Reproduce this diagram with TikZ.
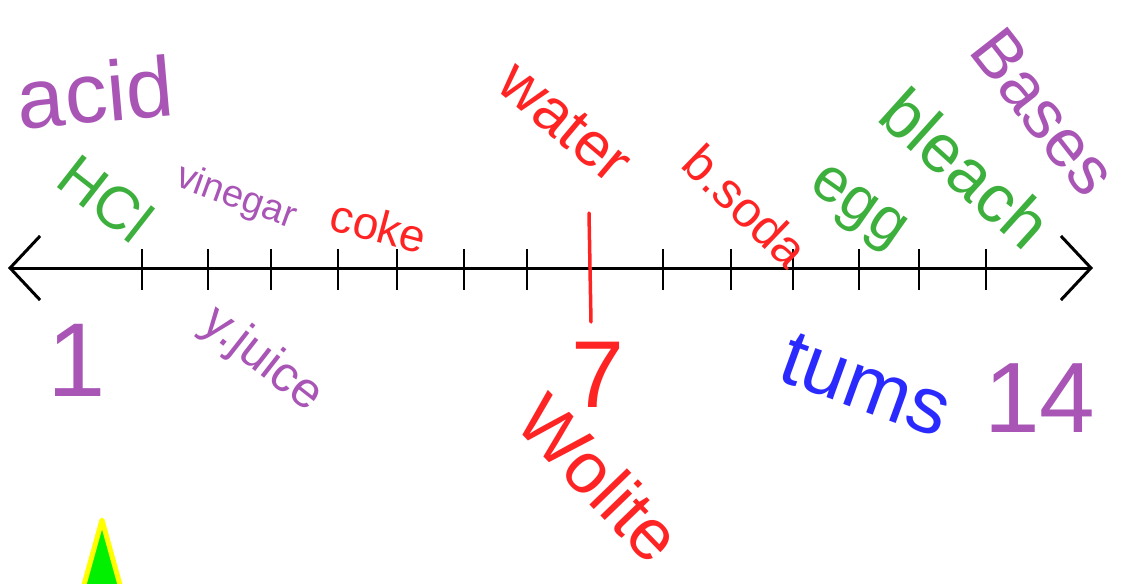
\documentclass[tikz,border=0pt]{standalone}
\usepackage{fontspec}
\setmainfont{Liberation Sans}
\usetikzlibrary{
  arrows.meta,
  positioning,
  calc
}
\definecolor{phPurple}{HTML}{A855B5}
\definecolor{phGreen}{HTML}{3CAF3C}
\definecolor{phRed}{HTML}{FF2424}
\definecolor{phBlue}{HTML}{2A2AFF}
\definecolor{phCursor}{HTML}{00F000}
\definecolor{phCursorEdge}{HTML}{FFFF00}
\newcommand{\scrawl}[1]{\fontsize{#1}{#1}\selectfont}
\tikzset{
  scribble/.style={inner sep=0pt, anchor=center},
  purplelbl/.style={scribble, text=phPurple},
  greenlbl/.style={scribble, text=phGreen},
  redlbl/.style={scribble, text=phRed},
  bluelbl/.style={scribble, text=phBlue},
  axisline/.style={line width=3pt, black,
    {Straight Barb[length=30pt, width=64pt]}-{Straight Barb[length=30pt, width=64pt]}},
  tickmark/.style={line width=2pt, black},
  neutral/.style={line width=3.5pt, phRed, line cap=round},
  cursor/.style={fill=phCursor, draw=phCursorEdge, line width=5pt, line join=round}
}

\begin{document}
\begin{tikzpicture}[x=1pt, y=-1pt]
  \useasboundingbox (0,0) rectangle (1128,584);

  % the scale
  \coordinate (lend) at (8,268);
  \coordinate (rend) at (1093,268);
  \draw[axisline] (lend) -- (rend);
  \foreach \x in {142,208,271,338,397,464,527,663,731,793,859,919,986}
    \draw[tickmark] (\x,249) -- (\x,290);
  \coordinate (ntop) at (589,213);
  \coordinate (nbot) at (591,322);
  \draw[neutral] (ntop) -- (nbot);

  % headings and end values
  \node[purplelbl, font={\scrawl{85}}, rotate=5] (acid) at (95,92) {acid};
  \node[purplelbl, font={\scrawl{68}}, rotate=-52] (bases) at (1044,112) {Bases};
  \node[purplelbl, font={\scrawl{105}}] (one) at (77,360) {1};
  \node[redlbl, font={\scrawl{95}}] (seven) at (598,375) {7};
  \node[purplelbl, font={\scrawl{100}}] (fourteen) at (1040,398) {14};

  % substances above the line
  \node[greenlbl, font={\scrawl{60}}, rotate=-38] (hcl) at (106,198) {HCl};
  \node[purplelbl, font={\scrawl{38}}, rotate=-20] (vinegar) at (236,198) {vinegar};
  \node[redlbl, font={\scrawl{46}}, rotate=-15] (coke) at (379,226) {coke};
  \node[redlbl, font={\scrawl{62}}, rotate=-40] (water) at (565,122) {water};
  \node[redlbl, font={\scrawl{50}}, rotate=-44] (bsoda) at (746,206) {b.soda};
  \node[greenlbl, font={\scrawl{62}}, rotate=-35] (egg) at (856,210) {egg};
  \node[greenlbl, font={\scrawl{68}}, rotate=-42] (bleach) at (966,168) {bleach};

  % substances below the line
  \node[purplelbl, font={\scrawl{50}}, rotate=-38] (yjuice) at (262,360) {y.juice};
  \node[redlbl, font={\scrawl{72}}, rotate=-46] (woolite) at (600,478) {Wolite};
  \node[bluelbl, font={\scrawl{80}}, rotate=-20] (tums) at (866,385) {tums};

  % pointer at the bottom edge
  \begin{scope}
    \clip (0,0) rectangle (1128,584);
    \draw[cursor] (102,520) -- (127,610) -- (77,610) -- cycle;
  \end{scope}
\end{tikzpicture}
\end{document}
